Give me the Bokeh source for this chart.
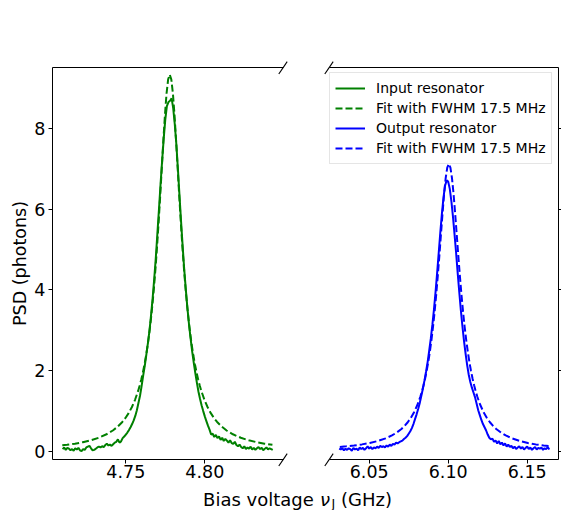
from bokeh.plotting import figure
from bokeh.models import (Range1d, LinearAxis, FixedTicker, Legend, LegendItem,
                          PrintfTickFormatter, ColumnDataSource)
from bokeh.layouts import row
from bokeh.core.properties import value
from bokeh.embed import file_html
from bokeh.resources import INLINE
import numpy as np

# ---------------- data ----------------
# measured PSD, sampled every 1 MHz
input_start_ghz = 4.710
input_psd = [
    0.06, 0.10, 0.04, 0.09, 0.07, 0.03, 0.06, 0.02, 0.08, 0.05, 0.09, 0.03,
    0.01, 0.06, 0.04, 0.10, 0.12, 0.14, 0.08, 0.03, 0.04, 0.07, 0.10, 0.12,
    0.10, 0.13, 0.11, 0.16, 0.19, 0.15, 0.17, 0.14, 0.18, 0.22, 0.24, 0.30,
    0.22, 0.25, 0.33, 0.37, 0.42, 0.47, 0.53, 0.60, 0.68, 0.77, 0.88, 1.02,
    1.20, 1.38, 1.62, 1.88, 2.12, 2.40, 2.68, 3.00, 3.38, 3.80, 4.28, 4.80,
    5.40, 6.00, 6.62, 7.20, 7.75, 8.22, 8.55, 8.65, 8.68, 8.74, 8.50, 8.10,
    7.60, 6.98, 6.32, 5.68, 5.07, 4.50, 4.00, 3.55, 3.15, 2.80, 2.48, 2.20,
    1.94, 1.70, 1.48, 1.30, 1.14, 1.00, 0.87, 0.75, 0.64, 0.54, 0.42,
    0.44, 0.36, 0.41, 0.33, 0.37, 0.29, 0.34, 0.26, 0.31, 0.27, 0.22, 0.28,
    0.21, 0.19, 0.24, 0.16, 0.13, 0.17, 0.11, 0.08, 0.13, 0.06, 0.10, 0.07,
    0.12, 0.05, 0.09, 0.04, 0.08, 0.11, 0.06, 0.09, 0.03, 0.07, 0.10, 0.05,
    0.08, 0.06, 0.04,
]
output_start_ghz = 6.031
output_psd = [
    0.07, 0.05, 0.08, 0.03, 0.07, 0.04, 0.08, 0.06, 0.02, 0.09, 0.05, 0.07,
    0.03, 0.10, 0.06, 0.09, 0.04, 0.08, 0.13, 0.07, 0.11, 0.06, 0.10, 0.08,
    0.12, 0.09, 0.14, 0.11, 0.13, 0.10, 0.15, 0.12, 0.17, 0.14, 0.19, 0.17,
    0.22, 0.20, 0.23, 0.25, 0.27, 0.31, 0.34, 0.38, 0.44, 0.50, 0.58, 0.68,
    0.80, 0.92, 1.05, 1.20, 1.38, 1.56, 1.76, 1.98, 2.22, 2.50, 2.80, 3.14,
    3.52, 3.95, 4.42, 4.92, 5.42, 5.88, 6.28, 6.58, 6.71, 6.68, 6.50, 6.20,
    5.82, 5.38, 4.92, 4.42, 3.95, 3.50, 3.10, 2.74, 2.42, 2.14, 1.90, 1.72,
    1.58, 1.46, 1.34, 1.18, 1.02, 0.90, 0.78, 0.68, 0.60, 0.52, 0.42, 0.34,
    0.30,
    0.32, 0.24, 0.27, 0.20, 0.26, 0.18, 0.22, 0.15, 0.20, 0.12, 0.17, 0.11,
    0.14, 0.08, 0.12, 0.06, 0.10, 0.13, 0.07, 0.11, 0.05, 0.09, 0.12, 0.06,
    0.10, 0.04, 0.08, 0.11, 0.05, 0.09, 0.07, 0.10, 0.04, 0.08, 0.06, 0.11,
    0.05,
]
step_ghz = 0.001

# fitted curves
input_fit_center = 4.7778
input_fit_offsets_mhz = [-68, -65, -60, -55, -50, -45, -40, -36, -33, -30, -28, -26,
                         -24, -22, -20, -19, -18, -17, -16, -15, -14, -13, -12, -11,
                         -10, -9, -8, -7, -6, -5, -4, -3, -2, -1, 0, 1, 2, 3, 4, 5,
                         6, 7, 8, 9, 10, 11, 12, 13, 14, 15, 16, 17, 18, 19, 20, 22,
                         24, 26, 28, 30, 33, 36, 40, 45, 50, 55, 60, 65]
input_fit = [0.152, 0.166, 0.194, 0.230, 0.277, 0.340, 0.426, 0.520, 0.613, 0.731,
             0.830, 0.949, 1.095, 1.274, 1.499, 1.633, 1.783, 1.954, 2.148, 2.369,
             2.621, 2.909, 3.238, 3.616, 4.046, 4.534, 5.082, 5.689, 6.346, 7.034,
             7.717, 8.348, 8.867, 9.210, 9.330, 9.210, 8.867, 8.348, 7.717, 7.034,
             6.346, 5.689, 5.082, 4.534, 4.046, 3.616, 3.238, 2.909, 2.621, 2.369,
             2.148, 1.954, 1.783, 1.633, 1.499, 1.274, 1.095, 0.949, 0.830, 0.731,
             0.613, 0.520, 0.426, 0.340, 0.277, 0.230, 0.194, 0.166]
output_fit_center = 6.1004
output_fit_offsets_mhz = [-69, -65, -60, -55, -50, -45, -40, -36, -33, -30, -28, -26,
                          -24, -22, -20, -19, -18, -17, -16, -15, -14, -13, -12, -11,
                          -10, -9, -8, -7, -6, -5, -4, -3, -2, -1, 0, 1, 2, 3, 4, 5,
                          6, 7, 8, 9, 10, 11, 12, 13, 14, 15, 16, 17, 18, 19, 20, 22,
                          24, 26, 28, 30, 33, 36, 40, 45, 50, 55, 60, 64]
output_fit = [0.113, 0.127, 0.148, 0.176, 0.211, 0.259, 0.325, 0.397, 0.468, 0.558,
              0.633, 0.724, 0.836, 0.972, 1.144, 1.246, 1.361, 1.491, 1.639, 1.808,
              2.000, 2.220, 2.471, 2.759, 3.088, 3.460, 3.878, 4.341, 4.843, 5.368,
              5.889, 6.370, 6.766, 7.028, 7.120, 7.028, 6.766, 6.370, 5.889, 5.368,
              4.843, 4.341, 3.878, 3.460, 3.088, 2.759, 2.471, 2.220, 2.000, 1.808,
              1.639, 1.491, 1.361, 1.246, 1.144, 0.972, 0.836, 0.724, 0.633, 0.558,
              0.468, 0.397, 0.326, 0.259, 0.211, 0.176, 0.148, 0.131]

left_ticks = [4.75, 4.80]
right_ticks = [6.05, 6.10, 6.15]
y_ticks = [0, 2, 4, 6, 8]
legend_labels = ["Input resonator", "Fit with FWHM 17.5 MHz",
                 "Output resonator", "Fit with FWHM 17.5 MHz"]
x_label_parts = ["Bias voltage", "\u03bd", "J", "(GHz)"]
y_label = "PSD (photons)"

# ---------------- sources ----------------
in_x = np.round(input_start_ghz + step_ghz * np.arange(len(input_psd)), 4)
out_x = np.round(output_start_ghz + step_ghz * np.arange(len(output_psd)), 4)
in_fx = input_fit_center + np.array(input_fit_offsets_mhz) / 1000.0
out_fx = output_fit_center + np.array(output_fit_offsets_mhz) / 1000.0

src_in = ColumnDataSource(dict(x=in_x, y=input_psd))
src_out = ColumnDataSource(dict(x=out_x, y=output_psd))
src_in_fit = ColumnDataSource(dict(x=in_fx, y=input_fit))
src_out_fit = ColumnDataSource(dict(x=out_fx, y=output_fit))

# ---------------- geometry (page pixels) ----------------
FONT = "DejaVu Sans"
TICK_FS = "17.5px"
GREEN = "#008000"
BLUE = "#0000ff"
DASH = "7 3"
LW = 2
H = 510
SPLIT = 316            # page x where the two canvases meet
PX_PER_GHZ = 1580.0
PX_PER_UNIT = 40.40
Y0_PX = 451.0          # page y of PSD = 0
SPINE_TOP_PX, SPINE_BOT_PX = 67.3, 459.3
L_LEFT_PX, L_RIGHT_PX = 52.0, 282.5
R_LEFT_PX, R_RIGHT_PX = 328.5, 557.5
L_REF = (4.75, 125.3)  # a tick value and its page x
R_REF = (6.10, 447.7)


def ydat(py):
    return (Y0_PX - py) / PX_PER_UNIT


y_lo, y_hi = ydat(SPINE_BOT_PX), ydat(SPINE_TOP_PX)
MARK_DX, MARK_DY = 4.2 / PX_PER_GHZ, 6.15 / PX_PER_UNIT


def make_panel(width, canvas_left_px, ref):
    def xdat(px):
        return ref[0] + (px - ref[1]) / PX_PER_GHZ
    p = figure(width=width, height=H,
               x_range=Range1d(xdat(canvas_left_px), xdat(canvas_left_px + width)),
               y_range=Range1d(ydat(H), ydat(0)),
               x_axis_location=None, y_axis_location=None,
               output_backend="svg", toolbar_location=None, min_border=0)
    p.outline_line_color = None
    p.grid.grid_line_color = None
    return p, xdat


def style_axis(ax, tick_out=4):
    ax.axis_line_color = "black"
    ax.axis_line_width = 1
    ax.major_tick_line_color = "black"
    ax.major_tick_line_width = 1
    ax.major_tick_in = 0
    ax.major_tick_out = tick_out
    ax.minor_tick_line_color = None
    ax.major_label_text_font = FONT
    ax.major_label_text_font_size = TICK_FS
    ax.major_label_text_color = "black"
    ax.axis_label_text_font = FONT
    ax.axis_label_text_font_size = "17.5px"
    ax.axis_label_text_font_style = "normal"
    ax.axis_label_text_color = "black"


def draw_series(p):
    r1 = p.line("x", "y", source=src_in, line_color=GREEN, line_width=LW)
    r2 = p.line("x", "y", source=src_in_fit, line_color=GREEN, line_width=LW,
                line_dash=DASH)
    r3 = p.line("x", "y", source=src_out, line_color=BLUE, line_width=LW)
    r4 = p.line("x", "y", source=src_out_fit, line_color=BLUE, line_width=LW,
                line_dash=DASH)
    return [r1, r2, r3, r4]


def spine_axis(p, side, loc, bounds, ticks, labels=True, tick_out=4):
    ax = LinearAxis(ticker=FixedTicker(ticks=ticks), fixed_location=loc,
                    bounds=bounds)
    style_axis(ax, tick_out)
    if not labels:
        ax.major_label_text_color = None
        ax.major_label_text_font_size = "1px"
        ax.major_label_standoff = 0
    p.add_layout(ax, side)
    return ax


def break_marks(p, xpos):
    xs0 = [xpos - MARK_DX, xpos - MARK_DX]
    xs1 = [xpos + MARK_DX, xpos + MARK_DX]
    ys0 = [y_lo - MARK_DY, y_hi - MARK_DY]
    ys1 = [y_lo + MARK_DY, y_hi + MARK_DY]
    p.segment(x0=xs0, y0=ys0, x1=xs1, y1=ys1, line_color="black", line_width=1.1)


XL_MID = ydat(498.5)          # vertical middle of the x label
XL_SUB_MID = ydat(502.5)      # vertical middle of the subscript
XL_FS = "18px"

# ---------------- left panel ----------------
p1, lx = make_panel(SPLIT, 0, L_REF)
draw_series(p1)
l_bounds = (lx(L_LEFT_PX), lx(L_RIGHT_PX))
bx = spine_axis(p1, "below", y_lo, l_bounds, left_ticks)
bx.formatter = PrintfTickFormatter(format="%.2f")
bx.major_label_standoff = 1
spine_axis(p1, "above", y_hi, l_bounds, [], labels=False, tick_out=0)
ly = spine_axis(p1, "left", lx(L_LEFT_PX), (y_lo, y_hi), y_ticks)
ly.major_label_standoff = 3
ly.axis_label = y_label
ly.axis_label_standoff = 1
break_marks(p1, lx(L_RIGHT_PX))
p1.text(x=[lx(202.6)], y=[XL_MID], text=[x_label_parts[0]], text_font=value(FONT),
        text_font_size=XL_FS, text_align="left", text_baseline="middle",
        text_color="black")

# ---------------- right panel ----------------
p2, rx = make_panel(561 - SPLIT, SPLIT, R_REF)
rs = draw_series(p2)
r_bounds = (rx(R_LEFT_PX), rx(R_RIGHT_PX))
bx2 = spine_axis(p2, "below", y_lo, r_bounds, right_ticks)
bx2.formatter = PrintfTickFormatter(format="%.2f")
bx2.major_label_standoff = 1
spine_axis(p2, "above", y_hi, r_bounds, [], labels=False, tick_out=0)
spine_axis(p2, "right", rx(R_RIGHT_PX), (y_lo, y_hi), y_ticks, labels=False,
           tick_out=3)
break_marks(p2, rx(R_LEFT_PX))

legend = Legend(items=[LegendItem(label=lab, renderers=[r])
                       for lab, r in zip(legend_labels, rs)],
                location=(13, H - 164), padding=5, spacing=0,
                glyph_width=30, glyph_height=20, label_height=20,
                label_standoff=11,
                label_text_font=FONT, label_text_font_size="14px",
                label_text_color="black",
                border_line_color="#cccccc", border_line_width=1,
                background_fill_color="white", background_fill_alpha=0.8)
p2.add_layout(legend)

# rest of the shared x label: italic nu, subscript J, unit
p2.text(x=[rx(319.5)], y=[XL_MID], text=[x_label_parts[1]], text_font=value(FONT),
        text_font_size=XL_FS, text_font_style="italic", text_align="left",
        text_baseline="middle", text_color="black")
p2.text(x=[rx(331.0)], y=[XL_SUB_MID], text=[x_label_parts[2]],
        text_font=value(FONT), text_font_size="12.5px", text_align="left",
        text_baseline="middle", text_color="black")
p2.text(x=[rx(340.5)], y=[XL_MID], text=[x_label_parts[3]], text_font=value(FONT),
        text_font_size=XL_FS, text_align="left", text_baseline="middle",
        text_color="black")

layout = row(p1, p2)
open("out.html", "w").write(file_html(layout, INLINE))
